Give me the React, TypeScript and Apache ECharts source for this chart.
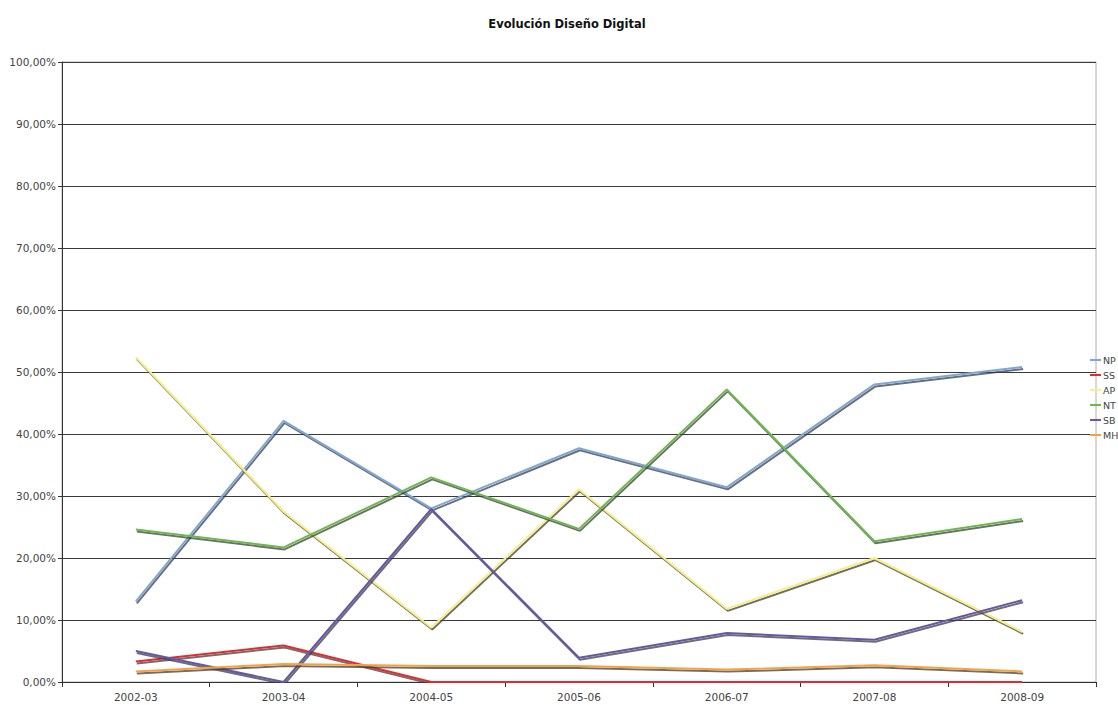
import React, { useEffect, useRef } from "react";
import * as echarts from "echarts";

const categories = ["2002-03", "2003-04", "2004-05", "2005-06", "2006-07", "2007-08", "2008-09"];
const seriesNames = ["NP", "SS", "AP", "NT", "SB", "MH"];
const NP = [13.0, 42.1, 28.0, 37.7, 31.4, 48.0, 50.8];
const SS = [3.3, 5.9, 0, 0, 0, 0, 0];
const AP = [52.4, 27.5, 8.8, 31.1, 11.8, 20.0, 8.1];
const NT = [24.6, 21.7, 33.0, 24.7, 47.2, 22.7, 26.3];
const SB = [5.0, 0, 27.9, 3.9, 7.9, 6.8, 13.2];
const MH = [1.7, 2.9, 2.6, 2.6, 2.0, 2.7, 1.7];
const seriesValues = [NP, SS, AP, NT, SB, MH];
const colors = ["#7ba7d9", "#e32b2f", "#f7ef86", "#6cb94b", "#6557aa", "#f7a23e"];

const FONT = "DejaVu Sans";

export default function App() {
  const ref = useRef<HTMLDivElement>(null);
  useEffect(() => {
    document.body.style.margin = "0";
    const chart = echarts.init(ref.current!, null, { renderer: "svg" });
    chart.setOption({
      animation: false,
      backgroundColor: "#ffffff",
      title: {
        text: "Evolución Diseño Digital",
        left: 562,
        textAlign: "center",
        top: 13,
        textStyle: { fontFamily: FONT, fontSize: 11.5, fontWeight: "bold", color: "#111" },
      },
      legend: {
        orient: "vertical",
        left: 1085,
        top: 350,
        itemWidth: 11,
        itemHeight: 2,
        itemGap: 5,
        icon: "rect",
        data: seriesNames,
        textStyle: { fontFamily: FONT, fontSize: 9.5, color: "#444", padding: [0, 0, 0, -3] },
      },
      grid: {
        left: 62,
        right: 22,
        top: 62,
        bottom: 23,
        show: true,
        borderColor: "#b0b0b0",
        borderWidth: 1,
      },
      xAxis: {
        type: "category",
        data: categories,
        boundaryGap: true,
        axisLine: { lineStyle: { color: "#333", width: 1 } },
        axisTick: { show: true, length: 5, lineStyle: { color: "#333" } },
        axisLabel: { fontFamily: FONT, fontSize: 10.5, color: "#444", margin: 9 },
        splitLine: { show: false },
      },
      yAxis: {
        type: "value",
        min: 0,
        max: 100,
        interval: 10,
        axisLine: { show: true, lineStyle: { color: "#333", width: 1 } },
        axisTick: { show: true, length: 4, lineStyle: { color: "#333" } },
        axisLabel: {
          fontFamily: FONT,
          fontSize: 10.5,
          color: "#444",
          margin: 6,
          formatter: (v: number) => v.toFixed(2).replace(".", ",") + "%",
        },
        splitLine: {
          show: true,
          lineStyle: { color: "#3a3a3a", width: 1, type: "solid" },
        },
      },
      series: seriesNames.map((name, i) => ({
        name,
        type: "line",
        data: seriesValues[i],
        showSymbol: false,
        symbol: "none",
        color: colors[i],
        lineStyle: {
          color: colors[i],
          width: 2,
          shadowColor: "rgba(60,60,60,0.75)",
          shadowOffsetX: 1,
          shadowOffsetY: 2,
          shadowBlur: 1,
        },
      })),
    });
    return () => chart.dispose();
  }, []);
  return (
    <div
      ref={ref}
      style={{ position: "absolute", left: 0, top: 0, width: 1118, height: 705 }}
    />
  );
}
